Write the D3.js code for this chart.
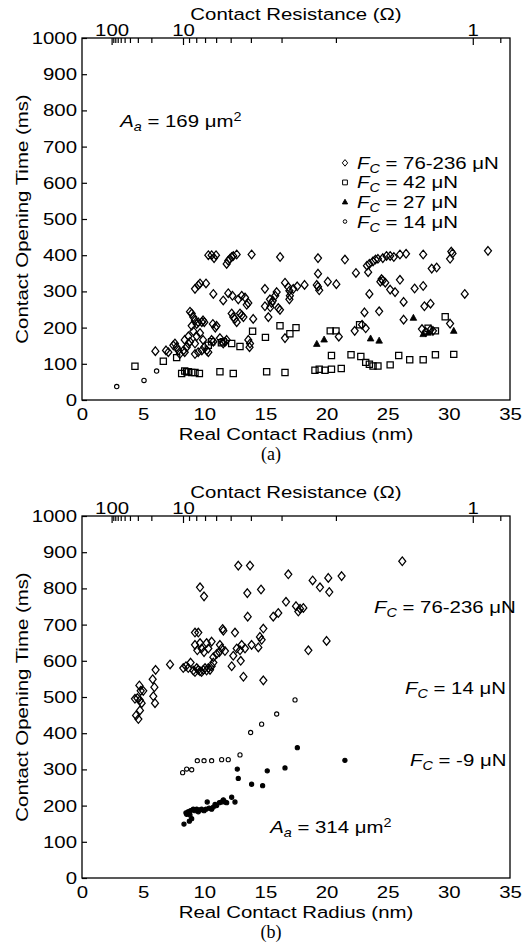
<!DOCTYPE html>
<html><head><meta charset="utf-8">
<script src="https://cdn.jsdelivr.net/npm/d3@7"></script>
<style>
body{margin:0;background:#fff}
svg text{font-family:"Liberation Sans",Arial,Helvetica,sans-serif;fill:#000}
</style>
</head><body>
<svg id="chart" width="527" height="942"></svg>
<script>
// ---------- data ----------
const radiusTicks = [0,5,10,15,20,25,30,35];
const timeTicks = [0,100,200,300,400,500,600,700,800,900,1000];
const resistanceMajor = [100,10,1];
const resistanceMinor = [90,80,70,60,50,40,30,20,9,8,7,6,5,4,3,2,0.9];
// R(a) = A/a^2 + B/a  (ohm, a in nm) used for the top axis
const resistanceCoefA = 571.7;
const resistanceCoefB = 14.13;

// Panel (a): [radius nm, opening time ms]
const aDiamond = [
[6.0,135],[6.87,137],[7.06,132],[7.47,151],[7.6,156],[7.74,146],[7.88,137],[8.0,127],[8.3,137],[8.4,132],[8.56,146],[8.7,156],
[9.24,127],[9.5,132],[9.8,137],[10.0,146],[10.2,137],[10.33,132],[10.6,166],[10.74,161],[11.28,171],[11.55,156],[11.7,161],[11.83,166],
[13.6,166],[13.74,156],[13.7,146],[8.4,166],[8.7,176],[8.83,161],[9.24,156],[8.97,205],[9.1,190],[9.38,176],[9.65,185],[9.9,166],
[8.83,244],[8.97,239],[9.1,229],[9.24,220],[9.38,210],[9.5,215],[9.8,215],[9.9,220],[10.0,215],[10.7,210],[10.9,200],[11.0,205],
[12.24,239],[12.37,229],[12.5,224],[12.65,215],[12.92,239],[13.06,234],[13.2,229],[14.0,224],
[9.24,307],[9.51,317],[9.65,322],[10.14,322],[10.74,293],[11.55,275],[11.96,295],[12.3,288],[12.78,278],[13.06,288],[13.33,283],[13.47,263],[13.6,268],
[10.33,400],[10.6,400],[10.8,392],[10.96,400],[11.83,376],[11.96,385],[12.1,390],[12.24,395],[12.37,398],[12.65,402],[13.87,402],[16.2,395],
[14.96,307],[15.37,278],[15.5,268],[15.8,288],[15.92,298],[16.05,254],[16.19,249],[16.6,324],[16.87,312],[16.96,302],[17.0,288],[17.28,307],[17.6,314],
[16.96,278],[14.96,259],[15.24,229],[15.6,274],[15.4,256],[16.6,171],
[18.2,318],[19.3,392],[19.3,349],[19.3,313],[19.4,303],[19.2,318],[20.1,327],[20.8,320],[21.5,388],[21.0,175],
[22.4,351],[23.4,353],[23.3,371],[23.5,376],[23.8,383],[24.0,388],[24.2,390],[24.6,392],[24.9,398],[25.2,398],[25.5,395],[26.0,402],[26.5,404],
[24.4,327],[24.5,334],[24.6,330],[24.8,324],[26.0,332],[25.2,305],[25.6,298],[23.5,293],[26.3,271],[23.1,242],[24.3,245],[26.3,222],
[22.3,191],[23.2,198],[22.9,208],[27.9,402],[27.2,308],[27.9,315],[28.6,363],[29.0,366],[28.0,259],[28.5,266],
[27.8,196],[28.1,188],[28.5,194],[28.7,191],[30.1,211],[30.2,410],[30.3,405],[30.1,390],[31.3,293],[33.2,412]
];
const aSquare = [
[4.33,93],[6.65,107],[7.74,117],[8.15,73],[8.4,80],[8.56,78],[8.7,78],[8.97,76],[9.24,76],[9.6,73],
[10.33,151],[10.6,161],[11.28,78],[11.4,158],[11.55,161],[12.24,156],[12.37,73],[12.92,148],[13.95,190],
[15.0,173],[15.1,78],[16.19,205],[16.6,76],[17.0,183],[17.5,200],
[19.05,82],[19.4,85],[19.87,82],[20.4,85],[21.2,87],[20.3,191],[20.77,191],[20.4,123],[22.0,125],[22.7,208],
[22.8,120],[23.2,104],[23.5,99],[23.8,94],[24.2,94],[25.2,97],[25.9,123],[26.8,111],[27.9,111],[28.9,125],[30.4,126],
[29.7,230],[28.3,198],[28.9,191]
];
const aTriangle = [
[19.2,155],[19.8,167],[23.6,170],[24.3,164],[27.1,227],[27.9,182],[28.3,186],[30.4,191]
];
const aCircle = [[2.84,37],[5.07,54],[6.1,80]];

// Panel (b)
const bDiamond = [
[4.33,495],[4.53,497],[4.74,491],[4.42,449],[4.61,439],[4.74,463],[4.88,483],[4.8,517],[5.01,517],[4.69,532],
[5.78,549],[5.92,527],[5.83,502],[5.97,483],[6.02,575],[7.2,590],
[8.28,580],[8.5,585],[8.69,580],[8.88,595],[9.1,573],[9.24,569],[9.38,580],[9.51,575],[9.65,571],[9.78,569],[9.92,575],
[10.06,580],[10.19,573],[10.33,580],[10.47,575],[10.6,585],[10.74,595],
[9.24,678],[9.51,678],[9.24,644],[9.43,629],[9.65,649],[9.78,634],[9.98,624],[10.19,649],[10.33,634],[10.6,653],
[9.65,803],[9.98,778],
[10.74,610],[11.01,619],[11.23,624],[11.42,634],[11.69,627],[11.28,644],[11.56,683],[11.5,688],
[12.24,585],[12.37,614],[12.51,678],[12.65,634],[12.92,629],[13.06,644],[12.98,600],[13.2,556],[13.33,634],
[12.78,863],[13.74,863],[13.52,787],[13.55,722],
[13.87,644],[14.42,637],[14.55,666],[14.69,658],[14.83,689],[14.83,546],[14.64,797],
[15.64,722],[16.05,732],
[16.87,839],[18.86,822],[19.46,803],[20.14,829],[20.22,790],[21.23,834],[26.19,875],
[16.68,763],[17.5,751],[17.69,736],[17.83,744],[18.1,746],[18.51,629],[20.0,655]
];
const bCircle = [
[8.23,291],[8.56,301],[8.97,299],[9.43,324],[9.98,324],[10.6,324],[11.42,327],[11.96,327],[12.92,340],
[13.79,402],[14.69,425],[15.92,453],[17.42,492]
];
const bDot = [
[8.34,149],[8.78,157],[8.97,164],[8.5,180],[8.69,183],[8.88,186],[9.1,190],[9.24,186],[9.38,190],[9.51,183],
[9.65,188],[9.78,190],[9.98,186],[10.14,190],[10.24,210],[10.4,193],[10.6,190],[10.74,196],[10.88,203],[11.01,200],
[11.23,208],[11.42,210],[11.56,216],[11.69,210],[11.83,208],[12.24,223],[12.51,210],[8.83,174],[8.56,176],
[12.7,301],[12.78,275],[13.87,259],[14.77,255],[15.15,296],[16.6,304],[17.61,360],[21.5,325]
];

// ---------- drawing ----------
const svg = d3.select('#chart');
const L = 82, R = 510;
const x = d3.scaleLinear().domain([0,35]).range([L,R]);
const FS = 17, SUB = 12, SX = 1.2;

function stretch(sel, origin){
  return sel.style('transform-box','fill-box').style('transform-origin',origin).style('transform',`scaleX(${SX})`);
}

const diamondSym = {draw(ctx){ const w=3.5,h=4.3; ctx.moveTo(0,-h); ctx.lineTo(w,0); ctx.lineTo(0,h); ctx.lineTo(-w,0); ctx.closePath(); }};
const diamondSmall = {draw(ctx){ const w=2.7,h=3.3; ctx.moveTo(0,-h); ctx.lineTo(w,0); ctx.lineTo(0,h); ctx.lineTo(-w,0); ctx.closePath(); }};
const squareSym = {draw(ctx){ const h=3.1; ctx.rect(-h,-h,2*h,2*h); }};
const squareSmall = {draw(ctx){ const h=2.4; ctx.rect(-h,-h,2*h,2*h); }};
const triSym = {draw(ctx){ ctx.moveTo(0,-3.5); ctx.lineTo(3.3,2.5); ctx.lineTo(-3.3,2.5); ctx.closePath(); }};
const triSmall = {draw(ctx){ ctx.moveTo(0,-2.7); ctx.lineTo(2.6,1.9); ctx.lineTo(-2.6,1.9); ctx.closePath(); }};

function radiusFromR(Rv){ const A=resistanceCoefA,B=resistanceCoefB; return (B+Math.sqrt(B*B+4*Rv*A))/(2*Rv); }

function fcLabel(g, px, py, rest){
  const t = g.append('text').attr('x',px).attr('y',py).attr('font-size',FS);
  t.append('tspan').attr('font-style','italic').text('F');
  t.append('tspan').attr('font-style','italic').attr('font-size',SUB).attr('dy',4).text('C');
  t.append('tspan').attr('dy',-4).text(rest);
  stretch(t,'left center');
  return t;
}
function aaLabel(g, px, py, val){
  const t = g.append('text').attr('x',px).attr('y',py).attr('font-size',FS);
  t.append('tspan').attr('font-style','italic').text('A');
  t.append('tspan').attr('font-style','italic').attr('font-size',SUB).attr('dy',4).text('a');
  t.append('tspan').attr('dy',-4).text(' = ' + val + ' \u03bcm');
  t.append('tspan').attr('font-size',SUB).attr('dy',-6).text('2');
  stretch(t,'left center');
}

function panel(top, bottom, panelName){
  const g = svg.append('g');
  const y = d3.scaleLinear().domain([0,1000]).range([bottom, top]);

  g.append('rect').attr('x',L).attr('y',top).attr('width',R-L).attr('height',bottom-top)
    .attr('fill','none').attr('stroke','#000').attr('stroke-width',1.3);

  const ya = g.append('g').attr('transform',`translate(${L},0)`)
    .call(d3.axisLeft(y).tickValues(timeTicks).tickFormat(d3.format('d')).tickSize(-5).tickSizeOuter(0).tickPadding(5));
  ya.select('.domain').remove();
  ya.selectAll('line').attr('stroke','#000').attr('stroke-width',1.2);
  stretch(ya.selectAll('text').attr('font-size',FS).attr('font-family','Liberation Sans, Arial, sans-serif').attr('fill','#000'),'right center');

  const xa = g.append('g').attr('transform',`translate(0,${bottom})`)
    .call(d3.axisBottom(x).tickValues(radiusTicks).tickFormat(d3.format('d')).tickSize(0).tickPadding(8));
  xa.select('.domain').remove();
  stretch(xa.selectAll('text').attr('font-size',FS).attr('font-family','Liberation Sans, Arial, sans-serif').attr('fill','#000'),'center');

  resistanceMinor.forEach(v=>{
    const px = x(radiusFromR(v));
    if(px<=R) g.append('line').attr('x1',px).attr('x2',px).attr('y1',top).attr('y2',top+5).attr('stroke','#000').attr('stroke-width',1.2);
  });
  resistanceMajor.forEach(v=>{
    const px = x(radiusFromR(v));
    g.append('line').attr('x1',px).attr('x2',px).attr('y1',top).attr('y2',top+7).attr('stroke','#000').attr('stroke-width',1.2);
    stretch(g.append('text').attr('x',px).attr('y',top-2).attr('text-anchor','middle').attr('font-size',FS).text(String(v)),'center');
  });

  stretch(g.append('text').attr('x',(L+R)/2).attr('y',top-18).attr('text-anchor','middle').attr('font-size',FS).text('Contact Resistance (\u03a9)'),'center');
  stretch(g.append('text').attr('x',(L+R)/2).attr('y',bottom+40).attr('text-anchor','middle').attr('font-size',FS).text('Real Contact Radius (nm)'),'center');
  const yt = g.append('g').attr('transform',`translate(28,${(top+bottom)/2}) rotate(-90)`);
  stretch(yt.append('text').attr('text-anchor','middle').attr('font-size',FS).text('Contact Opening Time (ms)'),'center');
  g.append('text').attr('x',271).attr('y',bottom+60).attr('text-anchor','middle').attr('font-size',18)
    .style('font-family','"Liberation Serif","Times New Roman",serif').text(panelName);
  return {g,y};
}

function plot(g, y, data, type, opts){
  const sym = d3.symbol().type(type);
  g.append('g').selectAll('path').data(data).join('path')
    .attr('transform',d=>`translate(${x(d[0])},${y(d[1])})`)
    .attr('d',sym)
    .attr('fill',opts.fill||'none').attr('stroke','#000').attr('stroke-width',opts.sw||1.25);
}
function plotCircles(g, y, data, r, filled){
  g.append('g').selectAll('circle').data(data).join('circle')
    .attr('cx',d=>x(d[0])).attr('cy',d=>y(d[1])).attr('r',r)
    .attr('fill',filled?'#000':'none').attr('stroke','#000').attr('stroke-width',1.1);
}

// Panel (a)
const pa = panel(38, 400, '(a)');
plot(pa.g, pa.y, aSquare, squareSym, {});
plot(pa.g, pa.y, aDiamond, diamondSym, {});
plot(pa.g, pa.y, aTriangle, triSym, {fill:'#000', sw:0.8});
plotCircles(pa.g, pa.y, aCircle, 2.2, false);
aaLabel(pa.g, 120, pa.y(772)+6, '169');
const legendItems = [
  {type:diamondSmall, fill:'none', txt:' = 76-236 \u03bcN'},
  {type:squareSmall, fill:'none', txt:' = 42 \u03bcN'},
  {type:triSmall, fill:'#000', txt:' = 27 \u03bcN'},
  {type:'circle', fill:'none', txt:' = 14 \u03bcN'}
];
const legendTimes = [655,601,547,493];
legendItems.forEach((it,i)=>{
  const cy = pa.y(legendTimes[i]);
  if(it.type==='circle'){
    pa.g.append('circle').attr('cx',345).attr('cy',cy).attr('r',1.8).attr('fill','none').attr('stroke','#000');
  } else {
    pa.g.append('path').attr('transform',`translate(345,${cy})`).attr('d',d3.symbol().type(it.type)())
      .attr('fill',it.fill).attr('stroke','#000').attr('stroke-width',1);
  }
  fcLabel(pa.g, 357, cy+6, it.txt);
});

// Panel (b)
const pb = panel(516, 878, '(b)');
plot(pb.g, pb.y, bDiamond, diamondSym, {});
plotCircles(pb.g, pb.y, bCircle, 2.1, false);
plotCircles(pb.g, pb.y, bDot, 2.1, true);
fcLabel(pb.g, 374, pb.y(749)+6, ' = 76-236 \u03bcN');
fcLabel(pb.g, 405, pb.y(524)+6, ' = 14 \u03bcN');
fcLabel(pb.g, 410, pb.y(325)+6, ' = -9 \u03bcN');
aaLabel(pb.g, 270, pb.y(141)+6, '314');
</script>
</body></html>
